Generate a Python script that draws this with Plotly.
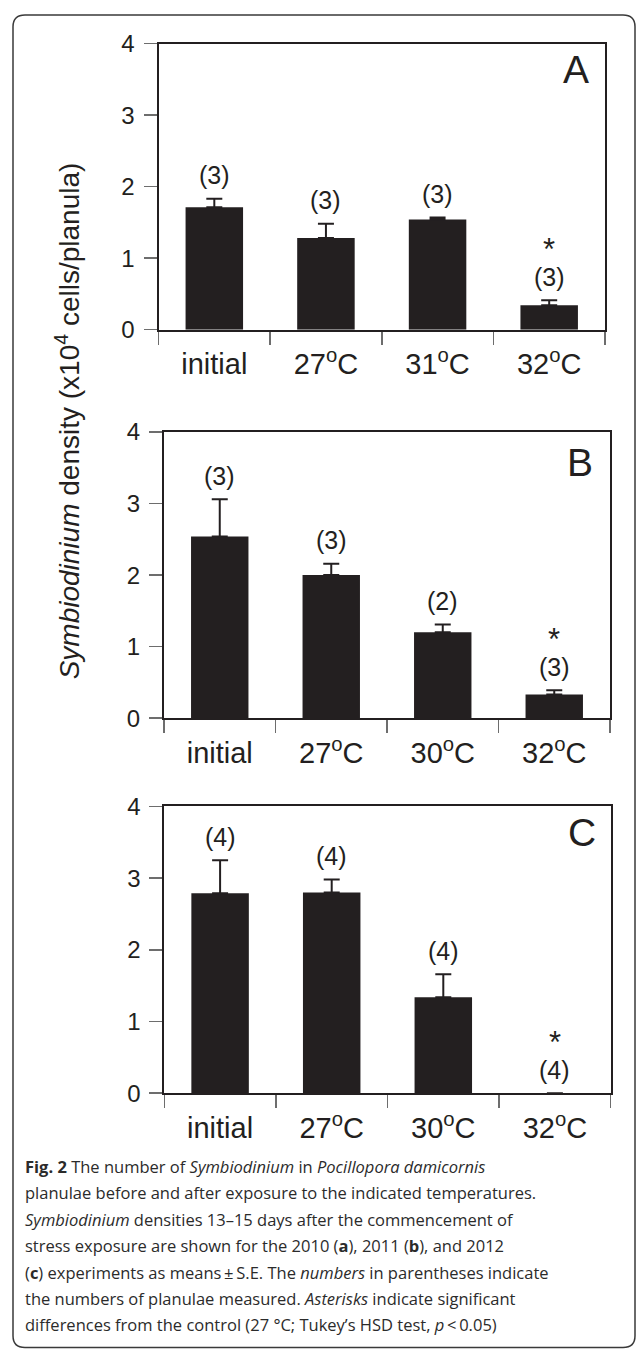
import plotly.graph_objects as go

# ---------------- data ----------------
labels_A = ["initial", "27<sup>o</sup>C", "31<sup>o</sup>C", "32<sup>o</sup>C"]
means_A = [1.71, 1.28, 1.54, 0.34]
se_A = [0.12, 0.20, 0.03, 0.07]
n_A = [3, 3, 3, 3]
sig_A = [False, False, False, True]

labels_B = ["initial", "27<sup>o</sup>C", "30<sup>o</sup>C", "32<sup>o</sup>C"]
means_B = [2.54, 2.00, 1.20, 0.33]
se_B = [0.52, 0.16, 0.11, 0.06]
n_B = [3, 3, 2, 3]
sig_B = [False, False, False, True]

labels_C = ["initial", "27<sup>o</sup>C", "30<sup>o</sup>C", "32<sup>o</sup>C"]
means_C = [2.79, 2.80, 1.34, 0.0]
se_C = [0.46, 0.18, 0.32, 0.0]
n_C = [4, 4, 4, 4]
sig_C = [False, False, False, True]

panel_letters = ["A", "B", "C"]
y_ticks = [0, 1, 2, 3, 4]

caption_lines = [
    "<b>Fig. 2</b> The number of <i>Symbiodinium</i> in <i>Pocillopora damicornis</i>",
    "planulae before and after exposure to the indicated temperatures.",
    "<i>Symbiodinium</i> densities 13\u201315 days after the commencement of",
    "stress exposure are shown for the 2010 (<b>a</b>), 2011 (<b>b</b>), and 2012",
    "(<b>c</b>) experiments as means\u2009\u00b1\u2009S.E. The <i>numbers</i> in parentheses indicate",
    "the numbers of planulae measured. <i>Asterisks</i> indicate significant",
    "differences from the control (27 \u00b0C; Tukey\u2019s HSD test, <i>p</i>\u2009&lt;\u20090.05)",
]

# ---------------- layout constants ----------------
W, H = 637, 1362
INK = "#231f20"
FONT = "Liberation Sans, Arial, Helvetica, sans-serif"
CAPFONT = "Open Sans, Noto Sans, sans-serif"

# the photographed picture maps page y to about 0.98*y + 12.7
SY, OY = 0.98, 12.7

def px_x(p):
    return p / W

def page_y(p):
    return (p - OY) / SY

def px_y(p):
    return 1 - page_y(p) / H

def dy(d):
    return d / SY

panels = [
    dict(labels=labels_A, means=means_A, se=se_A, n=n_A, sig=sig_A,
         xd=(158.5, 605.0), yd=(42.3, 328.3), letter=(576, 68)),
    dict(labels=labels_B, means=means_B, se=se_B, n=n_B, sig=sig_B,
         xd=(164.0, 610.0), yd=(430.7, 716.7), letter=(580, 461)),
    dict(labels=labels_C, means=means_C, se=se_C, n=n_C, sig=sig_C,
         xd=(164.3, 610.7), yd=(805.0, 1091.7), letter=(582, 831)),
]

fig = go.Figure()
annotations = []
layout_axes = {}

for k, p in enumerate(panels):
    sfx = "" if k == 0 else str(k + 1)
    xa, ya = "x" + sfx, "y" + sfx
    xs = list(range(len(p["labels"])))
    fig.add_trace(go.Bar(
        x=xs, y=p["means"], xaxis=xa, yaxis=ya,
        width=0.515, marker=dict(color=INK, line=dict(width=0)),
        error_y=dict(type="data", array=p["se"], arrayminus=[0] * len(xs),
                     symmetric=False, color=INK, thickness=2, width=8),
        showlegend=False, hoverinfo="skip",
    ))
    layout_axes["xaxis" + sfx] = dict(
        domain=[px_x(p["xd"][0]), px_x(p["xd"][1])],
        anchor=ya, range=[-0.5, 3.5],
        tickmode="array", tickvals=xs, ticktext=p["labels"],
        ticks="", ticklabelstandoff=8,
        tickfont=dict(family=FONT, size=29, color=INK),
        minor=dict(tickmode="array", tickvals=[-0.5, 0.5, 1.5, 2.5, 3.5],
                   ticks="outside", ticklen=13, tickwidth=1.5, tickcolor="#6d6d6d"),
        showline=True, mirror=True, linecolor=INK, linewidth=2,
        showgrid=False, zeroline=False, fixedrange=True,
    )
    layout_axes["yaxis" + sfx] = dict(
        domain=[px_y(p["yd"][1]), px_y(p["yd"][0])],
        anchor=xa, range=[0, 4],
        tickmode="array", tickvals=y_ticks,
        ticks="outside", ticklen=13, tickwidth=1.5, tickcolor="#6d6d6d",
        ticklabelstandoff=4,
        tickfont=dict(family=FONT, size=24, color=INK),
        showline=True, mirror=True, linecolor=INK, linewidth=2,
        showgrid=False, zeroline=False, fixedrange=True,
    )
    for i, x in enumerate(xs):
        top = p["means"][i] + p["se"][i]
        annotations.append(dict(
            x=x, y=top, xref=xa, yref=ya, text="(%d)" % p["n"][i],
            showarrow=False, yanchor="middle", yshift=dy(23),
            font=dict(family=FONT, size=25, color=INK)))
        if p["sig"][i]:
            annotations.append(dict(
                x=x, y=top, xref=xa, yref=ya, text="*",
                showarrow=False, yanchor="middle", yshift=dy(50),
                font=dict(family=FONT, size=31, color=INK)))
    lx, ly = p["letter"]
    annotations.append(dict(
        x=px_x(lx), y=px_y(ly), xref="paper", yref="paper",
        text=panel_letters[k], showarrow=False,
        xanchor="center", yanchor="middle",
        font=dict(family=FONT, size=39, color=INK)))

# y-axis title shared by all panels
annotations.append(dict(
    x=px_x(68), y=px_y(420), xref="paper", yref="paper",
    text="<i>Symbiodinium</i> density (x10<sup>4</sup> cells/planula)",
    textangle=-90, showarrow=False, xanchor="center", yanchor="middle",
    font=dict(family=FONT, size=28, color=INK)))

# caption lines
for j, line in enumerate(caption_lines):
    annotations.append(dict(
        x=px_x(23), y=px_y(1165 + j * 26.4), xref="paper", yref="paper",
        text=line, showarrow=False, xanchor="left", yanchor="middle",
        font=dict(family=CAPFONT, size=16.5, color="#2b2b2b")))

# rounded outer frame
x0, x1 = px_x(13), px_x(635)
y0, y1 = 1 - 1.0 / H, px_y(1346)
r = 12
rx, ry = r / W, r / H
path = (f"M {x0+rx},{y0} L {x1-rx},{y0} Q {x1},{y0} {x1},{y0-ry} "
        f"L {x1},{y1+ry} Q {x1},{y1} {x1-rx},{y1} "
        f"L {x0+rx},{y1} Q {x0},{y1} {x0},{y1+ry} "
        f"L {x0},{y0-ry} Q {x0},{y0} {x0+rx},{y0} Z")

fig.update_layout(
    width=W, height=H,
    margin=dict(l=0, r=0, t=0, b=0),
    paper_bgcolor="white", plot_bgcolor="white",
    annotations=annotations,
    shapes=[dict(type="path", path=path, xref="paper", yref="paper",
                 line=dict(color="#3a3a3a", width=1.5))],
    bargap=0.485,
    **layout_axes,
)

fig.write_html(
    "out.html",
    config={"displayModeBar": False, "staticPlot": True},
    post_script=(
        "document.documentElement.style.margin='0';"
        "document.documentElement.style.overflow='hidden';"
        "document.body.style.margin='0';document.body.style.padding='0';"
        "document.body.style.overflow='hidden';"
        "var gd=document.getElementById('{plot_id}');"
        "gd.style.position='absolute';gd.style.left='0px';gd.style.top='0px';"
    ),
)
